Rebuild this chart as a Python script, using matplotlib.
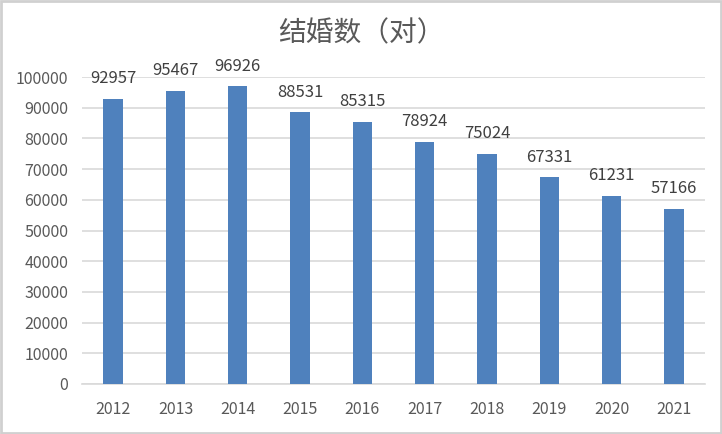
import matplotlib
matplotlib.use("Agg")
import matplotlib.pyplot as plt
from matplotlib.patches import Rectangle

years = ["2012", "2013", "2014", "2015", "2016", "2017", "2018", "2019", "2020", "2021"]
marriages = [92957, 95467, 96926, 88531, 85315, 78924, 75024, 67331, 61231, 57166]
yticks = [0, 10000, 20000, 30000, 40000, 50000, 60000, 70000, 80000, 90000, 100000]

plt.rcParams['font.family'] = ['Noto Sans CJK SC', 'DejaVu Sans']

fig = plt.figure(figsize=(7.22, 4.34), dpi=100)
ax = fig.add_axes([82/722, 1-384/434, (705-82)/722, (384-77)/434])

x = range(len(years))
ax.bar(x, marriages, width=0.31, color="#4F81BD", zorder=3)
for i, v in enumerate(marriages):
    ax.text(i, v + 3800, str(v), ha="center", va="bottom", fontsize=12, color="#404040")

ax.set_xlim(-0.5, len(years) - 0.5)
ax.set_ylim(0, 100000)
ax.set_yticks(yticks)
ax.set_yticklabels([str(t) for t in yticks], fontsize=11.5, color="#595959")
ax.set_xticks(list(x))
ax.set_xticklabels(years, fontsize=11.5, color="#595959")
ax.yaxis.grid(True, color="#D9D9D9", linewidth=1.2, zorder=0)
ax.tick_params(axis="both", length=0)
ax.tick_params(axis="x", pad=12)
ax.tick_params(axis="y", pad=10)
for s in ["top", "right", "left"]:
    ax.spines[s].set_visible(False)
ax.spines["bottom"].set_color("#D9D9D9")
ax.spines["bottom"].set_linewidth(1.2)

fig.text(0.5, 1 - 33/434, "结婚数（对）", ha="center", va="center", fontsize=20,
         fontweight="light", color="#595959")
fig.patches.append(Rectangle((0.002, 0.003), 0.996, 0.994, transform=fig.transFigure,
                             fill=False, edgecolor="#D0D0D0", linewidth=2))

fig.savefig("out.png", dpi=100)
